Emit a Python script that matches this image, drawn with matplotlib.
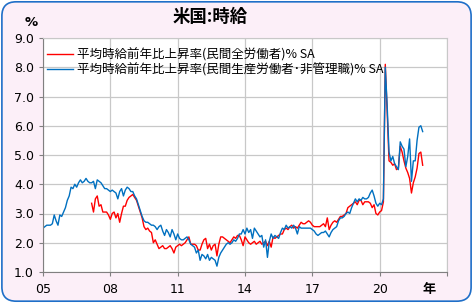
import numpy as np
import matplotlib.pyplot as plt
from matplotlib.patches import FancyBboxPatch

plt.rcParams['font.family'] = ['Noto Sans CJK JP', 'DejaVu Sans']

# monthly values, blue from Jan 2005, red from Mar 2007, both to Dec 2021
prod_nonsup = [
    2.5, 2.55, 2.6, 2.6, 2.6, 2.65, 2.95, 2.75, 2.6, 2.95, 2.9, 3.05,   # 2005
    3.2, 3.45, 3.6, 3.9, 3.85, 4.0, 3.9, 4.05, 4.15, 4.05, 4.1, 4.2,    # 2006
    4.1, 4.05, 4.05, 4.1, 3.85, 4.15, 4.1, 4.05, 3.95, 3.85, 3.85, 3.8, # 2007
    3.75, 3.8, 3.75, 3.7, 3.5, 3.75, 3.85, 3.6, 3.8, 3.9, 3.85, 3.75,   # 2008
    3.75, 3.6, 3.5, 3.3, 3.1, 2.9, 2.75, 2.7, 2.7, 2.65, 2.6, 2.6,      # 2009
    2.55, 2.45, 2.55, 2.6, 2.4, 2.25, 2.45, 2.35, 2.2, 2.45, 2.3, 2.1,  # 2010
    2.3, 2.15, 2.1, 2.1, 2.15, 2.2, 2.1, 1.95, 1.9, 1.85, 1.65, 1.75,   # 2011
    1.4, 1.6, 1.55, 1.45, 1.6, 1.4, 1.5, 1.45, 1.4, 1.2, 1.5, 1.65,     # 2012
    1.75, 1.85, 1.95, 2.0, 1.95, 2.0, 2.1, 2.05, 2.15, 2.3, 2.3, 2.45,  # 2013
    2.3, 2.5, 2.35, 2.45, 2.15, 2.5, 2.4, 2.3, 2.2, 2.25, 1.85, 2.1,    # 2014
    1.5, 2.05, 2.3, 2.15, 2.25, 2.2, 2.15, 2.35, 2.5, 2.45, 2.6, 2.5,   # 2015
    2.55, 2.5, 2.6, 2.5, 2.3, 2.55, 2.5, 2.5, 2.5, 2.5, 2.5, 2.5,       # 2016
    2.45, 2.4, 2.3, 2.25, 2.3, 2.35, 2.35, 2.4, 2.3, 2.2, 2.35, 2.45,   # 2017
    2.5, 2.55, 2.75, 2.85, 2.85, 2.9, 3.0, 3.05, 3.0, 3.2, 3.35, 3.5,   # 2018
    3.4, 3.5, 3.45, 3.55, 3.5, 3.5, 3.55, 3.7, 3.8, 3.6, 3.35, 3.25,    # 2019
    3.35, 3.3, 3.5, 8.0, 6.7, 5.1, 4.8, 4.95, 4.7, 4.6, 4.5, 5.45,      # 2020
    5.3, 5.2, 4.6, 4.95, 5.55, 4.1, 4.8, 4.8, 5.5, 5.95, 6.0, 5.8,      # 2021
]
all_private = [
    3.35, 3.05, 3.5, 3.6, 3.25, 3.3, 3.05, 3.05, 3.05, 2.95,            # 2007 (Mar-)
    2.8, 3.0, 3.05, 2.85, 3.0, 2.7, 3.0, 3.25, 3.25, 3.45, 3.55, 3.6,   # 2008
    3.65, 3.55, 3.45, 3.25, 3.05, 2.85, 2.55, 2.45, 2.5, 2.4, 2.35, 2.0, # 2009
    2.1, 1.95, 1.8, 1.85, 1.9, 1.8, 1.8, 1.85, 1.9, 1.8, 1.65, 1.85,    # 2010
    1.9, 1.95, 1.9, 1.95, 2.0, 2.1, 2.2, 1.95, 1.95, 1.95, 1.9, 1.75,   # 2011
    1.75, 1.95, 2.1, 2.15, 1.8, 1.95, 1.75, 1.9, 1.95, 1.55, 1.95, 2.2, # 2012
    2.2, 2.15, 2.1, 2.05, 2.0, 2.1, 2.2, 2.15, 2.25, 2.25, 2.1, 1.9,    # 2013
    2.2, 2.1, 2.0, 1.95, 2.0, 2.05, 1.95, 2.0, 2.05, 1.95, 2.0, 2.05,   # 2014
    1.9, 2.05, 1.85, 2.2, 2.15, 2.2, 2.25, 2.3, 2.3, 2.45, 2.5, 2.45,   # 2015
    2.55, 2.6, 2.5, 2.55, 2.5, 2.6, 2.7, 2.65, 2.65, 2.7, 2.75, 2.7,    # 2016
    2.6, 2.55, 2.55, 2.55, 2.55, 2.6, 2.65, 2.55, 2.85, 2.45, 2.6, 2.7, # 2017
    2.75, 2.7, 2.8, 2.9, 2.9, 2.95, 3.0, 3.2, 3.25, 3.3, 3.35, 3.4,     # 2018
    3.3, 3.45, 3.45, 3.3, 3.4, 3.4, 3.4, 3.35, 3.2, 3.3, 3.0, 2.95,     # 2019
    3.05, 3.1, 3.4, 8.1, 6.5, 4.8, 4.75, 4.65, 4.7, 4.5, 4.55, 5.3,     # 2020
    5.1, 4.8, 4.55, 4.4, 4.2, 3.7, 4.05, 4.25, 4.55, 5.05, 5.1, 4.65,   # 2021
]
x_ticks = [2005, 2008, 2011, 2014, 2017, 2020, 2023]
x_labels = ['05', '08', '11', '14', '17', '20', '']
y_ticks = np.arange(1.0, 9.01, 1.0)

t_blue = 2005 + np.arange(len(prod_nonsup)) / 12
t_red = 2007 + 2 / 12 + np.arange(len(all_private)) / 12

fig = plt.figure(figsize=(4.73, 3.03), dpi=100)
fig.patch.set_facecolor('white')
frame = FancyBboxPatch((0.004, 0.006), 0.992, 0.988, boxstyle='round,pad=0,rounding_size=0.03',
                       transform=fig.transFigure, facecolor='#FCEFF8', edgecolor='#1F6FC8',
                       linewidth=1.2, mutation_aspect=473 / 303, zorder=-10)
fig.add_artist(frame)

ax = fig.add_axes([43 / 473, 1 - 272 / 303, (447 - 43) / 473, (272 - 38) / 303])
ax.set_zorder(5)
ax.set_facecolor('white')

ax.plot(t_red, all_private, color='#FF0000', lw=1.0,
        label='平均時給前年比上昇率(民間全労働者)% SA')
ax.plot(t_blue, prod_nonsup, color='#0070C0', lw=1.0,
        label='平均時給前年比上昇率(民間生産労働者･非管理職)% SA')

ax.set_xlim(2005, 2023)
ax.set_ylim(1.0, 9.0)
ax.set_xticks(x_ticks)
ax.set_xticklabels(x_labels, fontfamily='DejaVu Sans')
ax.set_yticks(y_ticks)
ax.set_yticklabels([f'{v:.1f}' for v in y_ticks], fontfamily='DejaVu Sans')
ax.grid(True, color='#C8C8C8', lw=0.9)
ax.set_axisbelow(True)
for s in ['top', 'right']:
    ax.spines[s].set_color('#C8C8C8')
for s in ['left', 'bottom']:
    ax.spines[s].set_color('#808080')
ax.tick_params(axis='both', colors='#808080', labelcolor='black', labelsize=9, length=3, direction='out')
ax.tick_params(axis='x', pad=5)

leg = ax.legend(loc='upper left', bbox_to_anchor=(47 / 473, 1 - 48 / 303),
                bbox_transform=fig.transFigure, frameon=False, fontsize=9,
                handlelength=2.1, handletextpad=0.3, labelspacing=0.15, borderaxespad=0, borderpad=0)

fig.text(210 / 473, 1 - 17 / 303, '米国:時給', ha='center', va='center', fontsize=12.5, fontweight='bold')
fig.text(31 / 473, 1 - 22 / 303, '%', ha='center', va='center', fontsize=9.5, fontweight='bold',
         family='DejaVu Sans')
fig.text(429 / 473, 1 - 289 / 303, '年', ha='center', va='center', fontsize=9.5, fontweight='bold')

fig.savefig('out.png', dpi=100, facecolor=fig.get_facecolor())
